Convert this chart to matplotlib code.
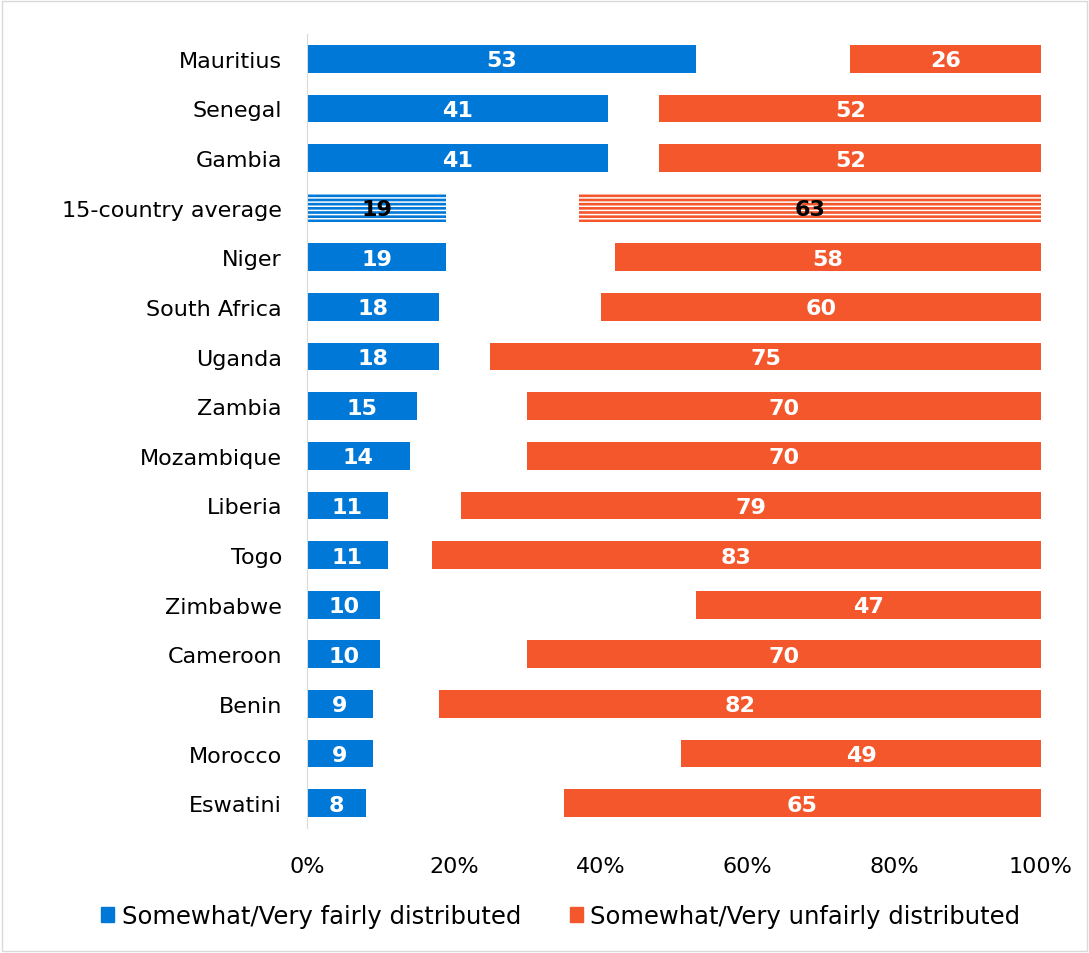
import matplotlib.pyplot as plt
from matplotlib.patches import Rectangle

plt.rcParams['font.family'] = ['DejaVu Sans']
plt.rcParams['hatch.linewidth'] = 1.1

countries = ["Mauritius", "Senegal", "Gambia", "15-country average", "Niger", "South Africa",
             "Uganda", "Zambia", "Mozambique", "Liberia", "Togo", "Zimbabwe", "Cameroon",
             "Benin", "Morocco", "Eswatini"]
fairly = [53, 41, 41, 19, 19, 18, 18, 15, 14, 11, 11, 10, 10, 9, 9, 8]
unfairly = [26, 52, 52, 63, 58, 60, 75, 70, 70, 79, 83, 47, 70, 82, 49, 65]
averageName = "15-country average"

blue = "#0078D7"
orange = "#F4572C"

fig = plt.figure(figsize=(10.89, 9.54), dpi=100)
axes = fig.add_axes([0.2819, 0.131, 0.674, 0.8323])

for i, name in enumerate(countries) :
    isAvg = name == averageName
    hatch = "----" if isAvg else None
    edge = "white" if isAvg else "none"
    axes.barh(i, fairly[i], height=0.56, color=blue, hatch=hatch, edgecolor=edge, linewidth=0)
    axes.barh(i, unfairly[i], left=100 - unfairly[i], height=0.56, color=orange, hatch=hatch,
              edgecolor=edge, linewidth=0)
    txtColor = "black" if isAvg else "white"
    axes.text(fairly[i] / 2, i + 0.03, str(fairly[i]), ha="center", va="center", color=txtColor,
              fontsize=16, fontweight="bold")
    axes.text(100 - unfairly[i] / 2, i + 0.03, str(unfairly[i]), ha="center", va="center",
              color=txtColor, fontsize=16, fontweight="bold")

axes.set_ylim(len(countries) - 0.5, -0.5)
axes.set_xlim(0, 100)
axes.set_yticks(range(len(countries)), labels=countries, fontsize=16)
axes.set_xticks(range(0, 101, 20), labels=[str(x) + "%" for x in range(0, 101, 20)], fontsize=16)
axes.tick_params(axis="both", length=0)
axes.tick_params(axis="y", pad=18)
axes.tick_params(axis="x", pad=20)
for side in ["top", "right", "bottom"] :
    axes.spines[side].set_visible(False)
axes.spines["left"].set_color("#D9D9D9")

handles = [Rectangle((0, 0), 1, 1, color=blue), Rectangle((0, 0), 1, 1, color=orange)]
fig.legend(handles, ["Somewhat/Very fairly distributed", "Somewhat/Very unfairly distributed"],
           loc="center", bbox_to_anchor=(0.515, 0.039), ncol=2, frameon=False, fontsize=17.5,
           handlelength=0.55, handleheight=0.55, handletextpad=0.3, columnspacing=2.0)

fig.patches.append(Rectangle((0.002, 0.002), 0.996, 0.996, transform=fig.transFigure,
                             fill=False, edgecolor="#D9D9D9", linewidth=1))

plt.savefig("out.png", dpi=100)
